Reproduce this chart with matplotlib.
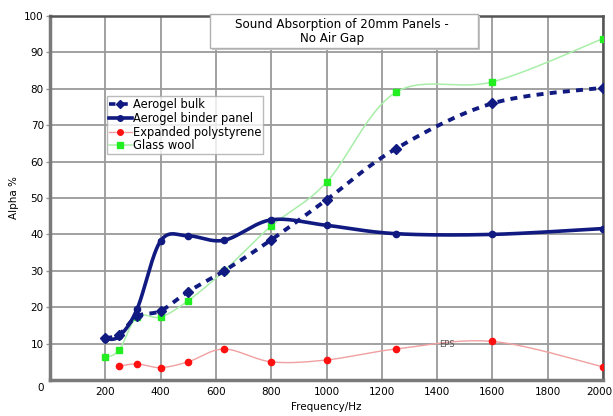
import numpy as np
import matplotlib
matplotlib.use("Agg")
import matplotlib.pyplot as plt
import matplotlib.transforms as mtransforms
from matplotlib.patches import Rectangle

freq = [200, 250, 315, 400, 500, 630, 800, 1000, 1250, 1600, 2000]
aerogel_bulk = [11.5, 12.5, 17.5, 19.0, 24.3, 30.0, 38.5, 49.5, 63.5, 76.0, 80.3]
aerogel_binder = [11.3, 12.0, 19.5, 38.2, 39.6, 38.4, 44.0, 42.5, 40.2, 40.0, 41.6]
eps_freq = [250, 315, 400, 500, 630, 800, 1000, 1250, 1600, 2000]
eps = [3.8, 4.4, 3.4, 5.0, 8.5, 5.0, 5.5, 8.5, 10.6, 3.6]
glass_wool = [6.2, 8.2, 17.4, 17.3, 21.8, 30.0, 42.3, 54.3, 79.0, 81.9, 93.8]

x_ticks = [200, 400, 600, 800, 1000, 1200, 1400, 1600, 1800, 2000]
y_ticks = [10, 20, 30, 40, 50, 60, 70, 80, 90, 100]

W, H = 613, 416
fig = plt.figure(figsize=(W / 100, H / 100), dpi=100)
L, R, T, B = 50, 603, 16, 380
ax = fig.add_axes([L / W, 1 - B / H, (R - L) / W, (B - T) / H])
ax.set_xlim(0, 2000)
ax.set_ylim(0, 100)

sx = (R - L) / 2000.0
sy = (B - T) / 100.0


def smooth(xs, ys, n=30):
    # Catmull-Rom (Excel-like) smoothing in screen space
    P = np.column_stack([np.asarray(xs, float) * sx, np.asarray(ys, float) * sy])
    out = [P[0]]
    for i in range(len(P) - 1):
        p0 = P[i - 1] if i > 0 else P[i]
        p1 = P[i]
        p2 = P[i + 1]
        p3 = P[i + 2] if i + 2 < len(P) else P[i + 1]
        c1 = p1 + (p2 - p0) / 6.0
        c2 = p2 - (p3 - p1) / 6.0
        t = np.linspace(0, 1, n)[1:, None]
        seg = ((1 - t) ** 3) * p1 + 3 * ((1 - t) ** 2) * t * c1 + 3 * (1 - t) * t ** 2 * c2 + t ** 3 * p2
        out.extend(seg)
    out = np.array(out)
    return out[:, 0] / sx, out[:, 1] / sy


for xv in x_ticks:
    ax.axvline(xv, color="#9a9a9a", lw=1.3, zorder=0)
for yv in y_ticks[:-1]:
    ax.axhline(yv, color="#9a9a9a", lw=1.3, zorder=0)

navy = "#101a80"
dash = (0, (1.8, 1.6))
# Glass wool
gx, gy = smooth(freq, glass_wool)
ax.plot(gx, gy, color="#a8eea8", lw=1.1, zorder=2)
ax.plot(freq, glass_wool, ls="none", marker="s", ms=4.5, color="#22ee22", zorder=3)
# EPS
ex, ey = smooth(eps_freq, eps)
ax.plot(ex, ey, color="#f0a0a0", lw=1.0, zorder=2)
ax.plot(eps_freq, eps, ls="none", marker="o", ms=4.5, color="#ff1010", zorder=3)
# Aerogel binder
bx, by = smooth(freq, aerogel_binder)
ax.plot(bx, by, color=navy, lw=2.6, zorder=4)
ax.plot(freq, aerogel_binder, ls="none", marker="o", ms=4.5, color=navy, zorder=4)
# Aerogel bulk
ax2x, ax2y = smooth(freq, aerogel_bulk)
ax.plot(ax2x, ax2y, color=navy, lw=2.8, ls=dash, zorder=4)
ax.plot(freq, aerogel_bulk, ls="none", marker="D", ms=5.5, color=navy, zorder=4)

ax.text(1436, 9.8, "EPS", fontsize=6, color="#555555", ha="center", va="center", zorder=5)

# legend handles
h1, = ax.plot([], [], color=navy, lw=2.6, ls=dash, marker="D", ms=4.5)
h2, = ax.plot([], [], color=navy, lw=2.6, marker="o", ms=4)
h3, = ax.plot([], [], color="#f0a0a0", lw=1.0, marker="o", ms=4, mfc="#ff1010", mec="#ff1010")
h4, = ax.plot([], [], color="#a8eea8", lw=1.1, marker="s", ms=4, mfc="#22ee22", mec="#22ee22")
leg = ax.legend([h1, h2, h3, h4],
                ["Aerogel bulk", "Aerogel binder panel", "Expanded polystyrene", "Glass wool"],
                loc="upper left", bbox_to_anchor=((107 - L) / (R - L), (B - 96) / (B - T)),
                fontsize=8.3, frameon=True, fancybox=False, borderpad=0.15,
                handlelength=2.0, handletextpad=0.1, labelspacing=0.08, borderaxespad=0,
                markerfirst=True)
leg.get_frame().set_edgecolor("#aaaaaa")
leg.get_frame().set_linewidth(1.0)
leg.set_zorder(6)

ax.set_xticks(x_ticks)
ax.set_yticks(y_ticks)
ax.set_xticklabels([str(v) for v in x_ticks], fontsize=7.5)
ax.set_yticklabels([str(v) for v in y_ticks], fontsize=7.5)
last = ax.get_xticklabels()[-1]
last.set_ha("right")
ax.tick_params(axis="x", length=0, pad=5)
ax.tick_params(axis="y", length=3, width=1, color="#999999", pad=1.5)
# keep last x label inside the figure
offset = mtransforms.ScaledTranslation(9 / 100, 0, fig.dpi_scale_trans)
last.set_transform(last.get_transform() + offset)
for s in ["left", "bottom"]:
    ax.spines[s].set_color("#7a7a7a")
    ax.spines[s].set_linewidth(2.5)
for s in ["top", "right"]:
    ax.spines[s].set_color("#555555")
    ax.spines[s].set_linewidth(1.8)

ax.set_xlabel("Frequency/Hz", fontsize=7.5, labelpad=4)
ax.set_ylabel("Alpha %", fontsize=7.5, labelpad=4)
fig.text(41 / W, 1 - 388 / H, "0", fontsize=7.5, ha="center", va="center")

# title box
tx0, tx1, ty0, ty1 = 210, 478, 14, 48
fig.patches.append(Rectangle((tx0 / W + 2 / W, 1 - (ty1 + 2) / H), (tx1 - tx0) / W, (ty1 - ty0) / H,
                             transform=fig.transFigure, facecolor="#c8c8c8", edgecolor="none", zorder=9))
fig.patches.append(Rectangle((tx0 / W, 1 - ty1 / H), (tx1 - tx0) / W, (ty1 - ty0) / H,
                             transform=fig.transFigure, facecolor="white", edgecolor="#b0b0b0",
                             lw=1.0, zorder=10))
fig.text(342 / W, 1 - 24.5 / H, "Sound Absorption of 20mm Panels -",
         fontsize=8.6, ha="center", va="center", zorder=11)
fig.text(332 / W, 1 - 38.5 / H, "No Air Gap",
         fontsize=8.6, ha="center", va="center", zorder=11)

fig.savefig("out.png", dpi=100)
